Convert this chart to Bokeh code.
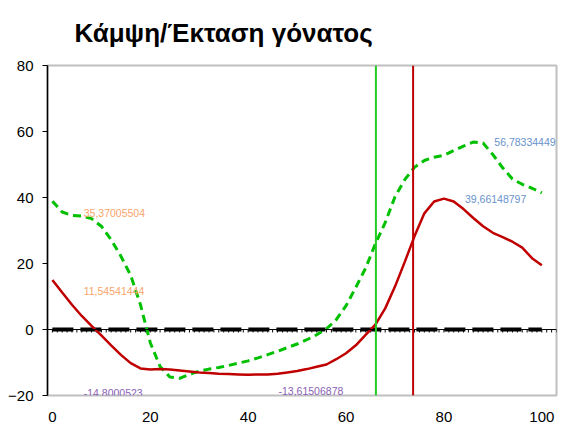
from bokeh.plotting import figure
from bokeh.models import ColumnDataSource, LabelSet, Span, Range1d, FixedTicker
from bokeh.core.properties import value
from bokeh.embed import file_html
from bokeh.resources import INLINE

title_text = "Κάμψη/Έκταση γόνατος"

# x values (% of cycle)
x_pct = [0, 2, 4, 6, 8, 10, 12, 14, 16, 18, 20, 22, 24, 26, 28, 30, 32, 34, 36, 38, 40,
         42, 44, 46, 48, 50, 52, 54, 56, 58, 60, 62, 64, 66, 68, 70, 72, 74, 76, 78, 80,
         82, 84, 86, 88, 90, 92, 94, 96, 98, 100]

# green dashed series
green_vals = [38.9, 35.6, 34.6, 34.4, 33.6, 31.3, 27.2, 22.2, 16.4, 7.5, -4.0,
              -11.2, -14.4, -14.8, -13.6, -12.6, -12.0, -11.5, -10.9, -10.2, -9.5,
              -8.6, -7.6, -6.6, -5.5, -4.4, -3.1, -1.6, 0.2, 3.0, 7.2,
              12.8, 18.6, 26.0, 32.4, 40.2, 45.4, 49.2, 51.2, 52.2, 52.8,
              54.2, 55.6, 56.8, 56.5, 53.0, 49.0, 45.6, 44.0, 42.8, 41.4]

# red solid series
red_vals = [15.0, 11.2, 7.5, 4.1, 1.1, -1.8, -4.8, -7.7, -10.2, -11.8, -12.1,
            -12.0, -12.1, -12.4, -12.7, -13.0, -13.2, -13.4, -13.5, -13.6, -13.7,
            -13.6, -13.6, -13.4, -13.0, -12.6, -12.0, -11.3, -10.6, -9.0, -7.2,
            -4.8, -1.6, 1.5, 6.4, 13.0, 20.5, 28.3, 35.2, 38.8, 39.66,
            38.8, 36.5, 33.8, 31.3, 29.3, 28.0, 26.6, 24.8, 21.6, 19.5]

# zero reference series range
zero_x = [0, 100]
zero_y = [0, 0]

# vertical markers (x positions)
green_marker_x = 66.1
red_marker_x = 73.7

# data labels
label_texts = ["35,37005504", "11,54541444", "-14,8000523", "-13,61506878",
               "56,78334449", "39,66148797"]
label_x = [6.4, 6.4, 6.4, 46.2, 90.3, 84.3]
label_y = [35.37, 11.55, -19.1, -18.6, 56.78, 39.66]
label_colors = ["#F8A46A", "#F8A46A", "#8A62B8", "#8A62B8", "#6892CC", "#6892CC"]

y_ticks = [-20, 0, 20, 40, 60, 80]
x_ticks = [0, 20, 40, 60, 80, 100]
minor_x = list(range(-1, 104))

FONT = "Liberation Sans"

p = figure(width=562, height=424, output_backend="svg", toolbar_location=None,
           x_range=Range1d(-1, 103), y_range=Range1d(-20, 80),
           min_border_left=47, min_border_right=6, min_border_top=65, min_border_bottom=26)

p.background_fill_color = "white"
p.border_fill_color = "white"
p.outline_line_color = "#BFBFBF"
p.outline_line_width = 2
p.xgrid.visible = False
p.ygrid.visible = False

p.title.text = title_text
p.title.text_font = FONT
p.title.text_font_size = "26px"
p.title.text_font_style = "bold"
p.title.text_color = "black"
p.title.align = "left"
p.title.vertical_align = "top"
p.title.offset = 27
p.title.standoff = 32

p.yaxis.ticker = FixedTicker(ticks=y_ticks)
p.yaxis.axis_line_color = "black"
p.yaxis.axis_line_width = 1.5
p.yaxis.major_tick_in = 0
p.yaxis.major_tick_out = 5
p.yaxis.minor_tick_line_color = None
p.yaxis.major_label_text_font = FONT
p.yaxis.major_label_text_font_size = "15px"
p.yaxis.major_label_text_color = "black"
p.yaxis.major_label_standoff = 9

p.xaxis.ticker = FixedTicker(ticks=x_ticks)
p.xaxis.axis_line_color = None
p.xaxis.major_tick_line_color = None
p.xaxis.minor_tick_line_color = None
p.xaxis.major_label_text_font = FONT
p.xaxis.major_label_text_font_size = "15px"
p.xaxis.major_label_text_color = "black"
p.xaxis.major_label_standoff = 10

# zero axis with small ticks
p.add_layout(Span(location=0, dimension="width", line_color="black", line_width=1))
p.segment(x0=minor_x, y0=[0] * len(minor_x), x1=minor_x, y1=[-0.9] * len(minor_x),
          line_color="black", line_width=1)
p.line(zero_x, zero_y, line_color="black", line_width=4, line_dash="21 7")

p.line(x_pct, green_vals, line_color="#00C000", line_width=3, line_dash="8 5")
p.line(x_pct, red_vals, line_color="#C00000", line_width=2.5)

p.add_layout(Span(location=green_marker_x, dimension="height", line_color="#22CC22", line_width=2))
p.add_layout(Span(location=red_marker_x, dimension="height", line_color="#C00000", line_width=2))

src = ColumnDataSource(dict(x=label_x, y=label_y, t=label_texts, c=label_colors))
p.add_layout(LabelSet(x="x", y="y", text="t", source=src, text_color="c",
                      text_font=value(FONT), text_font_size=value("10.5px"),
                      text_baseline="middle", text_align="left"))

open("out.html", "w").write(file_html(p, INLINE))
